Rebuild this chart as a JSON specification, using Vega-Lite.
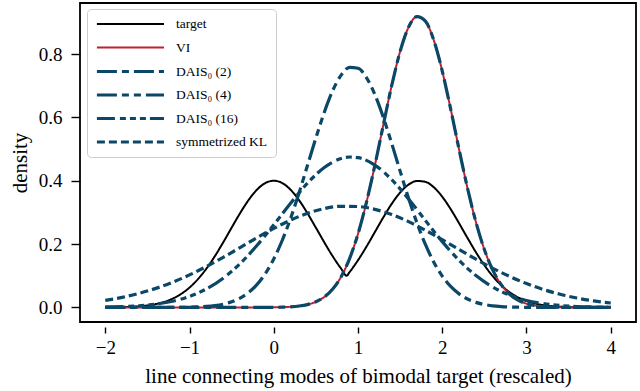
{
 "$schema": "https://vega.github.io/schema/vega-lite/v6.json",
 "width": 556, "height": 319,
 "autosize": {"type": "none"},
 "padding": {"left": 80, "top": 3, "right": 4, "bottom": 69},
 "config": {
  "font": "Liberation Serif",
  "view": {"stroke": "black", "strokeWidth": 1.8},
  "axis": {"grid": false, "domain": false, "tickColor": "black", "tickWidth": 1.4, "labelColor": "black", "titleColor": "black", "labelFont": "Liberation Serif", "titleFont": "Liberation Serif", "labelFontSize": 19, "titleFontSize": 21, "titleFontWeight": "normal"},
  "legend": {"labelFont": "Liberation Serif", "labelFontSize": 13.5, "labelColor": "black", "symbolType": "M-1,0H11", "symbolSize": 125, "symbolStrokeWidth": 2.6, "labelOffset": 66, "rowPadding": 9.5, "padding": 8, "strokeColor": "#cccccc", "fillColor": "white", "cornerRadius": 4}
 },
 "data": {"values": [
  {"s":"target","x":-2,"y":0.0002},{"s":"target","x":-1.9,"y":0.0005},{"s":"target","x":-1.8,"y":0.001},{"s":"target","x":-1.7,"y":0.0019},{"s":"target","x":-1.6,"y":0.0035},{"s":"target","x":-1.5,"y":0.0062},{"s":"target","x":-1.4,"y":0.0106},{"s":"target","x":-1.3,"y":0.0175},{"s":"target","x":-1.2,"y":0.0278},{"s":"target","x":-1.1,"y":0.0426},{"s":"target","x":-1.0,"y":0.0628},{"s":"target","x":-0.9,"y":0.0893},{"s":"target","x":-0.8,"y":0.1223},{"s":"target","x":-0.7,"y":0.1614},{"s":"target","x":-0.6,"y":0.2054},{"s":"target","x":-0.5,"y":0.2518},{"s":"target","x":-0.4,"y":0.2974},{"s":"target","x":-0.3,"y":0.3386},{"s":"target","x":-0.2,"y":0.3714},{"s":"target","x":-0.1,"y":0.3927},{"s":"target","x":0,"y":0.4},{"s":"target","x":0.1,"y":0.3927},{"s":"target","x":0.2,"y":0.3714},{"s":"target","x":0.3,"y":0.3386},{"s":"target","x":0.4,"y":0.2974},{"s":"target","x":0.5,"y":0.2518},{"s":"target","x":0.6,"y":0.2054},{"s":"target","x":0.7,"y":0.1614},{"s":"target","x":0.8,"y":0.1223},{"s":"target","x":0.865,"y":0.1001},{"s":"target","x":0.9,"y":0.1117},{"s":"target","x":1.0,"y":0.1491},{"s":"target","x":1.1,"y":0.1918},{"s":"target","x":1.2,"y":0.2378},{"s":"target","x":1.3,"y":0.284},{"s":"target","x":1.4,"y":0.327},{"s":"target","x":1.5,"y":0.3627},{"s":"target","x":1.6,"y":0.3877},{"s":"target","x":1.7,"y":0.3993},{"s":"target","x":1.8,"y":0.3964},{"s":"target","x":1.9,"y":0.3792},{"s":"target","x":2.0,"y":0.3495},{"s":"target","x":2.1,"y":0.3104},{"s":"target","x":2.2,"y":0.2657},{"s":"target","x":2.3,"y":0.2192},{"s":"target","x":2.4,"y":0.1742},{"s":"target","x":2.5,"y":0.1334},{"s":"target","x":2.6,"y":0.0985},{"s":"target","x":2.7,"y":0.07},{"s":"target","x":2.8,"y":0.048},{"s":"target","x":2.9,"y":0.0317},{"s":"target","x":3.0,"y":0.0202},{"s":"target","x":3.1,"y":0.0124},{"s":"target","x":3.2,"y":0.0073},{"s":"target","x":3.3,"y":0.0042},{"s":"target","x":3.4,"y":0.0023},{"s":"target","x":3.5,"y":0.0012},{"s":"target","x":3.6,"y":0.0006},{"s":"target","x":3.7,"y":0.0003},{"s":"target","x":3.8,"y":0.0001},{"s":"target","x":4.0,"y":0},
  {"s":"VI","x":-2,"y":0},{"s":"VI","x":-1,"y":0},{"s":"VI","x":-0.5,"y":0},{"s":"VI","x":0,"y":0.0004},{"s":"VI","x":0.1,"y":0.0009},{"s":"VI","x":0.2,"y":0.002},{"s":"VI","x":0.3,"y":0.0044},{"s":"VI","x":0.4,"y":0.009},{"s":"VI","x":0.5,"y":0.0177},{"s":"VI","x":0.6,"y":0.0329},{"s":"VI","x":0.7,"y":0.0581},{"s":"VI","x":0.8,"y":0.0971},{"s":"VI","x":0.9,"y":0.1542},{"s":"VI","x":1.0,"y":0.2321},{"s":"VI","x":1.1,"y":0.3312},{"s":"VI","x":1.2,"y":0.4483},{"s":"VI","x":1.3,"y":0.5754},{"s":"VI","x":1.4,"y":0.7003},{"s":"VI","x":1.5,"y":0.8082},{"s":"VI","x":1.6,"y":0.8845},{"s":"VI","x":1.7,"y":0.918},{"s":"VI","x":1.8,"y":0.9036},{"s":"VI","x":1.9,"y":0.8433},{"s":"VI","x":2.0,"y":0.7463},{"s":"VI","x":2.1,"y":0.6264},{"s":"VI","x":2.2,"y":0.4986},{"s":"VI","x":2.3,"y":0.3762},{"s":"VI","x":2.4,"y":0.2693},{"s":"VI","x":2.5,"y":0.1828},{"s":"VI","x":2.6,"y":0.1176},{"s":"VI","x":2.7,"y":0.0718},{"s":"VI","x":2.8,"y":0.0416},{"s":"VI","x":2.9,"y":0.0228},{"s":"VI","x":3.0,"y":0.0119},{"s":"VI","x":3.1,"y":0.0059},{"s":"VI","x":3.2,"y":0.0027},{"s":"VI","x":3.3,"y":0.0012},{"s":"VI","x":3.4,"y":0.0005},{"s":"VI","x":3.6,"y":0.0001},{"s":"VI","x":4.0,"y":0},
  {"s":"DAIS₀ (2)","x":-2,"y":0},{"s":"DAIS₀ (2)","x":-1,"y":0},{"s":"DAIS₀ (2)","x":-0.5,"y":0},{"s":"DAIS₀ (2)","x":0,"y":0.0004},{"s":"DAIS₀ (2)","x":0.1,"y":0.0009},{"s":"DAIS₀ (2)","x":0.2,"y":0.002},{"s":"DAIS₀ (2)","x":0.3,"y":0.0044},{"s":"DAIS₀ (2)","x":0.4,"y":0.009},{"s":"DAIS₀ (2)","x":0.5,"y":0.0177},{"s":"DAIS₀ (2)","x":0.6,"y":0.0329},{"s":"DAIS₀ (2)","x":0.7,"y":0.0581},{"s":"DAIS₀ (2)","x":0.8,"y":0.0971},{"s":"DAIS₀ (2)","x":0.9,"y":0.1542},{"s":"DAIS₀ (2)","x":1.0,"y":0.2321},{"s":"DAIS₀ (2)","x":1.1,"y":0.3312},{"s":"DAIS₀ (2)","x":1.2,"y":0.4483},{"s":"DAIS₀ (2)","x":1.3,"y":0.5754},{"s":"DAIS₀ (2)","x":1.4,"y":0.7003},{"s":"DAIS₀ (2)","x":1.5,"y":0.8082},{"s":"DAIS₀ (2)","x":1.6,"y":0.8845},{"s":"DAIS₀ (2)","x":1.7,"y":0.918},{"s":"DAIS₀ (2)","x":1.8,"y":0.9036},{"s":"DAIS₀ (2)","x":1.9,"y":0.8433},{"s":"DAIS₀ (2)","x":2.0,"y":0.7463},{"s":"DAIS₀ (2)","x":2.1,"y":0.6264},{"s":"DAIS₀ (2)","x":2.2,"y":0.4986},{"s":"DAIS₀ (2)","x":2.3,"y":0.3762},{"s":"DAIS₀ (2)","x":2.4,"y":0.2693},{"s":"DAIS₀ (2)","x":2.5,"y":0.1828},{"s":"DAIS₀ (2)","x":2.6,"y":0.1176},{"s":"DAIS₀ (2)","x":2.7,"y":0.0718},{"s":"DAIS₀ (2)","x":2.8,"y":0.0416},{"s":"DAIS₀ (2)","x":2.9,"y":0.0228},{"s":"DAIS₀ (2)","x":3.0,"y":0.0119},{"s":"DAIS₀ (2)","x":3.1,"y":0.0059},{"s":"DAIS₀ (2)","x":3.2,"y":0.0027},{"s":"DAIS₀ (2)","x":3.3,"y":0.0012},{"s":"DAIS₀ (2)","x":3.4,"y":0.0005},{"s":"DAIS₀ (2)","x":3.6,"y":0.0001},{"s":"DAIS₀ (2)","x":4.0,"y":0},
  {"s":"DAIS₀ (4)","x":-2,"y":0},{"s":"DAIS₀ (4)","x":-1.5,"y":0},{"s":"DAIS₀ (4)","x":-1.2,"y":0.0002},{"s":"DAIS₀ (4)","x":-1.0,"y":0.0008},{"s":"DAIS₀ (4)","x":-0.9,"y":0.0016},{"s":"DAIS₀ (4)","x":-0.8,"y":0.0031},{"s":"DAIS₀ (4)","x":-0.7,"y":0.0058},{"s":"DAIS₀ (4)","x":-0.6,"y":0.0103},{"s":"DAIS₀ (4)","x":-0.5,"y":0.0177},{"s":"DAIS₀ (4)","x":-0.4,"y":0.0293},{"s":"DAIS₀ (4)","x":-0.3,"y":0.0467},{"s":"DAIS₀ (4)","x":-0.2,"y":0.072},{"s":"DAIS₀ (4)","x":-0.1,"y":0.1069},{"s":"DAIS₀ (4)","x":0,"y":0.153},{"s":"DAIS₀ (4)","x":0.1,"y":0.2113},{"s":"DAIS₀ (4)","x":0.2,"y":0.2814},{"s":"DAIS₀ (4)","x":0.3,"y":0.3615},{"s":"DAIS₀ (4)","x":0.4,"y":0.4479},{"s":"DAIS₀ (4)","x":0.5,"y":0.5349},{"s":"DAIS₀ (4)","x":0.6,"y":0.6162},{"s":"DAIS₀ (4)","x":0.7,"y":0.6846},{"s":"DAIS₀ (4)","x":0.8,"y":0.7335},{"s":"DAIS₀ (4)","x":0.9,"y":0.7578},{"s":"DAIS₀ (4)","x":1.0,"y":0.7551},{"s":"DAIS₀ (4)","x":1.1,"y":0.7255},{"s":"DAIS₀ (4)","x":1.2,"y":0.6723},{"s":"DAIS₀ (4)","x":1.3,"y":0.6008},{"s":"DAIS₀ (4)","x":1.4,"y":0.5178},{"s":"DAIS₀ (4)","x":1.5,"y":0.4303},{"s":"DAIS₀ (4)","x":1.6,"y":0.3449},{"s":"DAIS₀ (4)","x":1.7,"y":0.2666},{"s":"DAIS₀ (4)","x":1.8,"y":0.1987},{"s":"DAIS₀ (4)","x":1.9,"y":0.1428},{"s":"DAIS₀ (4)","x":2.0,"y":0.099},{"s":"DAIS₀ (4)","x":2.1,"y":0.0662},{"s":"DAIS₀ (4)","x":2.2,"y":0.0427},{"s":"DAIS₀ (4)","x":2.3,"y":0.0265},{"s":"DAIS₀ (4)","x":2.4,"y":0.0159},{"s":"DAIS₀ (4)","x":2.5,"y":0.0092},{"s":"DAIS₀ (4)","x":2.6,"y":0.0051},{"s":"DAIS₀ (4)","x":2.7,"y":0.0028},{"s":"DAIS₀ (4)","x":2.8,"y":0.0014},{"s":"DAIS₀ (4)","x":2.9,"y":0.0007},{"s":"DAIS₀ (4)","x":3.0,"y":0.0003},{"s":"DAIS₀ (4)","x":3.2,"y":0.0001},{"s":"DAIS₀ (4)","x":3.5,"y":0},{"s":"DAIS₀ (4)","x":4.0,"y":0},
  {"s":"DAIS₀ (16)","x":-2,"y":0.0011},{"s":"DAIS₀ (16)","x":-1.8,"y":0.0025},{"s":"DAIS₀ (16)","x":-1.6,"y":0.0053},{"s":"DAIS₀ (16)","x":-1.4,"y":0.0105},{"s":"DAIS₀ (16)","x":-1.2,"y":0.0196},{"s":"DAIS₀ (16)","x":-1.0,"y":0.0348},{"s":"DAIS₀ (16)","x":-0.8,"y":0.0584},{"s":"DAIS₀ (16)","x":-0.6,"y":0.0924},{"s":"DAIS₀ (16)","x":-0.4,"y":0.1382},{"s":"DAIS₀ (16)","x":-0.2,"y":0.1953},{"s":"DAIS₀ (16)","x":0,"y":0.2607},{"s":"DAIS₀ (16)","x":0.2,"y":0.3289},{"s":"DAIS₀ (16)","x":0.4,"y":0.3922},{"s":"DAIS₀ (16)","x":0.6,"y":0.4417},{"s":"DAIS₀ (16)","x":0.8,"y":0.4702},{"s":"DAIS₀ (16)","x":0.9,"y":0.4749},{"s":"DAIS₀ (16)","x":1.0,"y":0.4728},{"s":"DAIS₀ (16)","x":1.2,"y":0.4494},{"s":"DAIS₀ (16)","x":1.4,"y":0.4034},{"s":"DAIS₀ (16)","x":1.6,"y":0.3423},{"s":"DAIS₀ (16)","x":1.8,"y":0.2744},{"s":"DAIS₀ (16)","x":2.0,"y":0.2078},{"s":"DAIS₀ (16)","x":2.2,"y":0.1487},{"s":"DAIS₀ (16)","x":2.4,"y":0.1006},{"s":"DAIS₀ (16)","x":2.6,"y":0.0643},{"s":"DAIS₀ (16)","x":2.8,"y":0.0388},{"s":"DAIS₀ (16)","x":3.0,"y":0.0221},{"s":"DAIS₀ (16)","x":3.2,"y":0.0119},{"s":"DAIS₀ (16)","x":3.4,"y":0.0061},{"s":"DAIS₀ (16)","x":3.6,"y":0.0029},{"s":"DAIS₀ (16)","x":3.8,"y":0.0013},{"s":"DAIS₀ (16)","x":4.0,"y":0.0006},
  {"s":"symmetrized KL","x":-2,"y":0.0222},{"s":"symmetrized KL","x":-1.8,"y":0.0317},{"s":"symmetrized KL","x":-1.6,"y":0.0443},{"s":"symmetrized KL","x":-1.4,"y":0.0601},{"s":"symmetrized KL","x":-1.2,"y":0.0795},{"s":"symmetrized KL","x":-1.0,"y":0.1027},{"s":"symmetrized KL","x":-0.8,"y":0.1291},{"s":"symmetrized KL","x":-0.6,"y":0.1582},{"s":"symmetrized KL","x":-0.4,"y":0.1889},{"s":"symmetrized KL","x":-0.2,"y":0.2199},{"s":"symmetrized KL","x":0,"y":0.2494},{"s":"symmetrized KL","x":0.2,"y":0.2758},{"s":"symmetrized KL","x":0.4,"y":0.2972},{"s":"symmetrized KL","x":0.6,"y":0.312},{"s":"symmetrized KL","x":0.8,"y":0.3193},{"s":"symmetrized KL","x":1.0,"y":0.3185},{"s":"symmetrized KL","x":1.2,"y":0.3096},{"s":"symmetrized KL","x":1.4,"y":0.2933},{"s":"symmetrized KL","x":1.6,"y":0.2709},{"s":"symmetrized KL","x":1.8,"y":0.2437},{"s":"symmetrized KL","x":2.0,"y":0.2138},{"s":"symmetrized KL","x":2.2,"y":0.1827},{"s":"symmetrized KL","x":2.4,"y":0.1522},{"s":"symmetrized KL","x":2.6,"y":0.1235},{"s":"symmetrized KL","x":2.8,"y":0.0978},{"s":"symmetrized KL","x":3.0,"y":0.0754},{"s":"symmetrized KL","x":3.2,"y":0.0566},{"s":"symmetrized KL","x":3.4,"y":0.0415},{"s":"symmetrized KL","x":3.6,"y":0.0296},{"s":"symmetrized KL","x":3.8,"y":0.0206},{"s":"symmetrized KL","x":4.0,"y":0.014}
 ]},
 "mark": {"type": "line", "interpolate": "monotone", "clip": true},
 "encoding": {
  "x": {"field": "x", "type": "quantitative", "scale": {"domain": [-2.3, 4.3], "nice": false, "zero": false},
        "axis": {"values": [-2, -1, 0, 1, 2, 3, 4], "title": "line connecting modes of bimodal target (rescaled)", "offset": 5, "tickSize": 6, "labelPadding": 5, "titlePadding": 8}},
  "y": {"field": "y", "type": "quantitative", "scale": {"domain": [-0.046, 0.961], "nice": false, "zero": false},
        "axis": {"values": [0, 0.2, 0.4, 0.6, 0.8], "format": ".1f", "title": "density", "tickSize": 9, "labelPadding": 9, "titlePadding": 8}},
  "color": {"field": "s", "type": "nominal",
            "scale": {"domain": ["target", "VI", "DAIS₀ (2)", "DAIS₀ (4)", "DAIS₀ (16)", "symmetrized KL"], "range": ["#000000", "#c0212d", "#0b4767", "#0b4767", "#0b4767", "#0b4767"]},
            "legend": {"orient": "none", "legendX": 7, "legendY": 6, "title": null}},
  "strokeDash": {"field": "s", "type": "nominal",
            "scale": {"domain": ["target", "VI", "DAIS₀ (2)", "DAIS₀ (4)", "DAIS₀ (16)", "symmetrized KL"], "range": [[1, 0], [1, 0], [20, 5, 7, 5], [20, 5, 7, 5, 7, 5], [18, 5, 6, 4, 6, 4, 6, 4], [8, 4]]},
            "legend": {"orient": "none", "legendX": 7, "legendY": 6, "title": null}},
  "strokeWidth": {"field": "s", "type": "nominal",
            "scale": {"type": "ordinal", "domain": ["target", "VI", "DAIS₀ (2)", "DAIS₀ (4)", "DAIS₀ (16)", "symmetrized KL"], "range": [2, 2, 3.2, 3.2, 3.2, 3.2]},
            "legend": null}
 }
}
